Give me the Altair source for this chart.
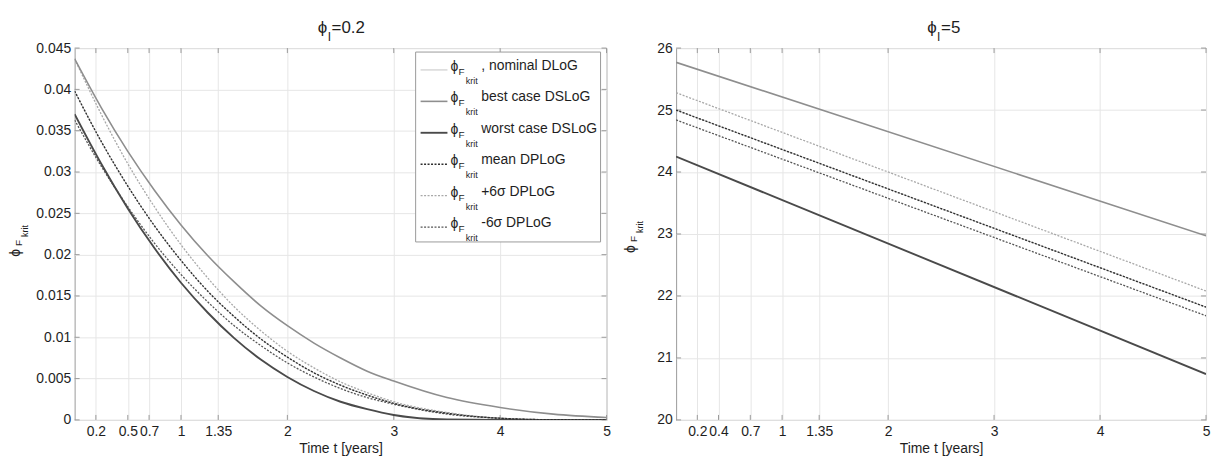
import altair as alt
import pandas as pd

# ---------------- data ----------------
# left panel (phi_I = 0.2)
T_LEFT = [0.0, 0.25, 0.5, 0.75, 1.0, 1.25, 1.5, 1.75, 2.0, 2.25, 2.5, 2.75, 3.0, 3.5, 4.0, 4.5, 5.0]
NOMINAL_L = [0.0398, 0.0337, 0.0283, 0.0235, 0.0193, 0.0156, 0.0125, 0.0098, 0.0076, 0.0057, 0.0042, 0.0030, 0.0020, 0.0008, 0.0002, 0.00002, 0.0]
BEST_L = [0.0437, 0.0378, 0.0325, 0.0278, 0.0236, 0.0199, 0.0167, 0.0138, 0.0114, 0.0093, 0.0075, 0.0059, 0.0047, 0.0027, 0.0015, 0.0007, 0.0003]
WORST_L = [0.0370, 0.0310, 0.0256, 0.0208, 0.0166, 0.0130, 0.0099, 0.0073, 0.0052, 0.0035, 0.0022, 0.0013, 0.0006, 0.00005, 0.0, 0.0, 0.0]
MEAN_L = [0.0398, 0.0337, 0.0283, 0.0235, 0.0193, 0.0156, 0.0125, 0.0098, 0.0076, 0.0057, 0.0042, 0.0030, 0.0020, 0.0008, 0.0002, 0.00002, 0.0]
PLUS6_L = [0.0437, 0.0370, 0.0310, 0.0258, 0.0212, 0.0172, 0.0137, 0.0108, 0.0083, 0.0063, 0.0046, 0.0033, 0.0022, 0.0009, 0.0002, 0.00002, 0.0]
MINUS6_L = [0.0363, 0.0307, 0.0258, 0.0214, 0.0176, 0.0143, 0.0114, 0.0090, 0.0069, 0.0052, 0.0038, 0.0027, 0.0019, 0.0007, 0.0002, 0.00002, 0.0]

# right panel (phi_I = 5)
T_RIGHT = [0.0, 5.0]
NOMINAL_R = [25.00, 21.82]
BEST_R = [25.77, 22.97]
WORST_R = [24.25, 20.74]
MEAN_R = [25.00, 21.82]
PLUS6_R = [25.28, 22.08]
MINUS6_R = [24.84, 21.68]

X_TICKS_L = [0.2, 0.5, 0.7, 1, 1.35, 2, 3, 4, 5]
X_TICKS_R = [0.2, 0.4, 0.7, 1, 1.35, 2, 3, 4, 5]
Y_TICKS_L = [0, 0.005, 0.01, 0.015, 0.02, 0.025, 0.03, 0.035, 0.04, 0.045]
Y_TICKS_R = [20, 21, 22, 23, 24, 25, 26]

SERIES_LABELS = [
    ("nominal", ", nominal DLoG"),
    ("best", "best case DSLoG"),
    ("worst", "worst case DSLoG"),
    ("mean", "mean DPLoG"),
    ("plus6", "+6\u03c3 DPLoG"),
    ("minus6", "-6\u03c3 DPLoG"),
]

# ---------------- styles ----------------
FONT = "Liberation Sans"
TXT = "#1e1e1e"
FRAME = "#9a9a9a"
PHI = "\u03d5"
STYLE = {
    "nominal": dict(color="#c4c4c4", strokeWidth=1.0),
    "best": dict(color="#8e8e8e", strokeWidth=1.6),
    "worst": dict(color="#4a4a4a", strokeWidth=1.9),
    "mean": dict(color="#2e2e2e", strokeWidth=1.4, strokeDash=[2, 1.5]),
    "plus6": dict(color="#a8a8a8", strokeWidth=1.3, strokeDash=[2, 1.5]),
    "minus6": dict(color="#555555", strokeWidth=1.3, strokeDash=[2, 1.5]),
}
DRAW_ORDER = ["nominal", "plus6", "best", "minus6", "worst", "mean"]
PLOT_H = 374
TICK_LEN = 5
DUMMY = pd.DataFrame({"k": [0]})


def long_df(t, series):
    rows = []
    for name, vals in series.items():
        for ti, vi in zip(t, vals):
            rows.append({"series": name, "t": ti, "v": vi})
    return pd.DataFrame(rows)


def txt(text, x, y, size, **kw):
    return alt.Chart(DUMMY).mark_text(
        text=text, font=FONT, fontSize=size, color=TXT, **kw
    ).encode(x=alt.value(x), y=alt.value(y))


def phi_title(value_text, phi_right):
    return [
        txt(PHI, phi_right, -15, 17, align="right", baseline="alphabetic"),
        txt("I", phi_right + 0.5, -7, 12, align="left", baseline="alphabetic"),
        txt("=" + value_text, phi_right + 4.5, -15, 17, align="left", baseline="alphabetic"),
    ]


def y_title(xc, y_phi, y_f, y_krit):
    return [
        txt(PHI, xc, y_phi, 14, angle=270, align="left", baseline="middle"),
        txt("F", xc + 3, y_f, 10, angle=270, align="left", baseline="middle"),
        txt("krit", xc + 9, y_krit, 9, angle=270, align="left", baseline="middle"),
    ]


def legend_layers():
    out = [
        alt.Chart(DUMMY).mark_rect(fill="white", stroke=FRAME, strokeWidth=1).encode(
            x=alt.value(343), x2=alt.value(529), y=alt.value(4), y2=alt.value(195)
        )
    ]
    for i, (key, label) in enumerate(SERIES_LABELS):
        yc = 18 + 31.6 * i
        out.append(
            alt.Chart(DUMMY).mark_rule(**STYLE[key]).encode(
                x=alt.value(348), x2=alt.value(375), y=alt.value(yc + 4)
            )
        )
        out.append(txt(PHI, 378, yc + 1, 14, align="left", baseline="middle"))
        out.append(txt("F", 386, yc + 6, 10, align="left", baseline="middle"))
        out.append(txt("krit", 393.5, yc + 15, 9, align="left", baseline="middle"))
        out.append(txt(label, 409, yc, 14, align="left", baseline="middle"))
    return out


def panel(df, width, xticks, ydom, yticks, ylabel_expr, extra_before, extra_after):
    x_enc = alt.X(
        "t:Q",
        scale=alt.Scale(domain=[0, 5], nice=False, zero=False),
        axis=alt.Axis(
            values=xticks, labelExpr="format(datum.value, '~g')", title="Time t [years]",
            grid=True, ticks=False, domain=False, labelOverlap=False, labelFlush=False,
            labelPadding=5, titlePadding=3,
        ),
    )
    y_enc = alt.Y(
        "v:Q",
        scale=alt.Scale(domain=ydom, nice=False, zero=False),
        axis=alt.Axis(
            values=yticks, labelExpr=ylabel_expr, title=None, grid=True, ticks=False,
            domain=False, labelOverlap=False, labelFlush=False, labelPadding=4,
        ),
    )
    xt = pd.DataFrame({"t": xticks})
    yt = pd.DataFrame({"v": yticks})
    tick_style = dict(color=FRAME, strokeWidth=1)
    ticks = [
        alt.Chart(xt).mark_rule(**tick_style).encode(
            x=x_enc, y=alt.value(PLOT_H), y2=alt.value(PLOT_H - TICK_LEN)),
        alt.Chart(xt).mark_rule(**tick_style).encode(
            x=x_enc, y=alt.value(0), y2=alt.value(TICK_LEN)),
        alt.Chart(yt).mark_rule(**tick_style).encode(
            y=y_enc, x=alt.value(0), x2=alt.value(TICK_LEN)),
        alt.Chart(yt).mark_rule(**tick_style).encode(
            y=y_enc, x=alt.value(width), x2=alt.value(width - TICK_LEN)),
    ]
    layers = []
    for key in DRAW_ORDER:
        layers.append(
            alt.Chart(df)
            .transform_filter(alt.datum.series == key)
            .mark_line(interpolate="monotone", clip=True, **STYLE[key])
            .encode(x=x_enc, y=y_enc)
        )
    return alt.layer(*ticks, *extra_before, *layers, *extra_after).properties(
        width=width, height=PLOT_H)


left_df = long_df(T_LEFT, {
    "nominal": NOMINAL_L, "best": BEST_L, "worst": WORST_L,
    "mean": MEAN_L, "plus6": PLUS6_L, "minus6": MINUS6_L,
})
right_df = long_df(T_RIGHT, {
    "nominal": NOMINAL_R, "best": BEST_R, "worst": WORST_R,
    "mean": MEAN_R, "plus6": PLUS6_R, "minus6": MINUS6_R,
})

left = panel(
    left_df, 535, X_TICKS_L, [0, 0.045], Y_TICKS_L, "format(datum.value, '~g')",
    phi_title("0.2", 254) + y_title(-59, 210, 199, 190),
    legend_layers(),
)
right = panel(
    right_df, 533, X_TICKS_R, [20, 26], Y_TICKS_R, "format(datum.value, 'd')",
    phi_title("5", 262) + y_title(-45.5, 206, 195, 186),
    [],
)

chart = (
    alt.hconcat(left, right, spacing=70, bounds="flush")
    .properties(padding={"left": 0, "top": 9, "right": 0, "bottom": 0}, background="white")
    .configure_view(stroke=FRAME, strokeWidth=1)
    .configure_axis(
        labelFont=FONT, titleFont=FONT, labelFontSize=14, titleFontSize=14,
        labelColor=TXT, titleColor=TXT, titleFontWeight="normal",
        gridColor="#e6e6e6", gridWidth=1,
    )
)

chart.save("out.html", embed_options={"renderer": "svg", "actions": False})
